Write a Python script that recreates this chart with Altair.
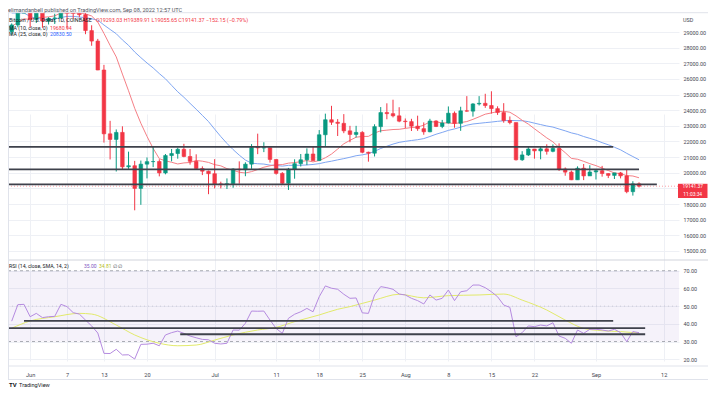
import altair as alt
import numpy as np
import pandas as pd

# ------------------------------------------------------------------ data
start_date = "2022-05-29"
end_date = "2022-09-08"
origin_date = "2022-06-01"

opens = [29020, 29450, 31720,
         31790, 29800, 30450, 29700, 29860, 29900, 31370, 31125, 30200, 30110,
         29090, 28420, 26570, 22490, 22130, 22580, 20380, 20450, 19000, 20550,
         20710, 20720, 19990, 21100, 21230, 21500, 21040, 20730, 20270, 20100,
         19940, 19290, 19240, 19300, 20230, 20190, 20550, 21620, 21590, 21600,
         20850, 19960, 19330, 20230, 20580, 20830, 21200, 20780, 22430, 23390,
         23230, 23160, 22680, 22450, 22580, 21310, 21250, 22950, 23850, 23780,
         23640,
         23300, 23270, 22980, 22820, 22620, 23310, 22960, 23180, 23810, 23160,
         23960, 23940, 24400, 24440, 24300, 24100, 23850, 23340, 23210, 20830,
         21140, 21520, 21400, 21530, 21370, 21560, 20240, 20040, 19550, 20290,
         19800,
         20050, 20130, 19950, 19830, 19990, 19800, 18790, 19293]
highs = [29550, 32220, 32400,
         31980, 30660, 30690, 29950, 30170, 31760, 31560, 31330, 30650, 30330,
         29430, 28560, 26900, 23320, 22770, 22970, 21350, 20760, 20780, 20980,
         21700, 20860, 21200, 21520, 21600, 21850, 21520, 21180, 20410, 20140,
         20870, 19430, 19640, 20290, 20730, 20670, 21830, 22500, 21950, 21600,
         20860, 20040, 20310, 20860, 21200, 21560, 21690, 22730, 23780, 24280,
         23430, 23750, 23000, 23000, 22660, 21350, 23100, 24200, 24440, 24670,
         24190,
         23470, 23450, 23650, 23220, 23450, 23360, 23380, 24240, 23920, 24220,
         24900, 24450, 24900, 25050, 25210, 24250, 24450, 23600, 23210, 21380,
         21700, 21520, 21670, 21820, 21810, 21880, 20340, 20140, 20410, 20560,
         20480,
         20200, 20440, 19970, 20000, 20050, 20180, 19460, 19390]
lows = [28820, 29300, 31220,
        29300, 29580, 29270, 29480, 29510, 29880, 29220, 29840, 29950, 28860,
        28120, 26560, 21930, 20850, 20080, 20230, 20250, 17600, 17950, 19640,
        20360, 19770, 19900, 20730, 20900, 20990, 20520, 20200, 19850, 18630,
        19000, 19000, 18960, 19040, 19300, 19780, 20250, 21190, 21320, 20650,
        19880, 19240, 18900, 19620, 20400, 20490, 20770, 20760, 21650, 23060,
        22350, 22530, 21950, 22260, 21250, 20710, 21040, 22580, 23420, 23540,
        23230,
        22850, 22670, 22680, 22430, 22590, 22920, 22850, 23150, 22880, 22680,
        23900, 23590, 24300, 24150, 23780, 23700, 23200, 23100, 20780, 20760,
        21070, 20900, 20860, 21160, 21310, 20120, 19810, 19530, 19550, 19530,
        19800,
        19570, 19750, 19660, 19600, 19640, 18690, 18540, 19056]
closes = [29450, 31720, 31790,
          29800, 30450, 29700, 29860, 29900, 31370, 31125, 30200, 30110, 29090,
          28420, 26570, 22490, 22130, 22580, 20380, 20450, 19000, 20550, 20710,
          20720, 19990, 21100, 21230, 21500, 21040, 20730, 20270, 20100, 19940,
          19290, 19240, 19300, 20230, 20190, 20550, 21620, 21590, 21600, 20850,
          19960, 19330, 20230, 20580, 20830, 21200, 20780, 22430, 23390, 23230,
          23160, 22680, 22450, 22580, 21310, 21250, 22950, 23850, 23780, 23640,
          23300,
          23270, 22980, 22820, 22620, 23310, 22960, 23180, 23810, 23160, 23960,
          23940, 24400, 24440, 24300, 24100, 23850, 23340, 23210, 20830, 21140,
          21520, 21400, 21530, 21370, 21560, 20240, 20040, 19550, 20290, 19800,
          20050,
          20130, 19950, 19830, 19990, 19800, 18790, 19290, 19141.37]
ma10 = [29357, 29610, 29846,
        29798, 29933, 29938, 29969, 30032, 30306, 30517, 30592, 30431, 30161,
        30023, 29635, 28914, 28141, 27409, 26310, 25242, 24122, 23166, 22328,
        21558, 20900, 20761, 20671, 20563, 20629, 20657, 20784, 20739, 20662,
        20519, 20444, 20264, 20164, 20033, 19984, 20073, 20205, 20355, 20446,
        20513, 20522, 20615, 20650, 20714, 20779, 20695, 20779, 20958, 21196,
        21516, 21851, 22073, 22273, 22321, 22326, 22543, 22685, 22724, 22765,
        22779,
        22838, 22891, 22915, 23046, 23252, 23253, 23186, 23189, 23141, 23207,
        23274, 23416, 23578, 23746, 23825, 23914, 23930, 23870, 23637, 23355,
        23113, 22813, 22522, 22229, 21975, 21614, 21284, 20918, 20864, 20730,
        20583,
        20456, 20298, 20144, 19987, 19943, 19818, 19792, 19681]
ma25 = [30587, 30394, 30225,
        29998, 29854, 29839, 29793, 29831, 29925, 29998, 30003, 29955, 29925,
        29844, 29759, 29447, 29164, 28890, 28494, 28148, 27722, 27362, 27020,
        26703, 26342, 26008, 25589, 25177, 24827, 24438, 24061, 23670, 23272,
        22789, 22313, 21877, 21482, 21126, 20811, 20613, 20577, 20556, 20487,
        20470, 20425, 20474, 20476, 20480, 20500, 20531, 20584, 20671, 20740,
        20825, 20903, 20990, 21089, 21144, 21222, 21371, 21553, 21695, 21833,
        21943,
        22009, 22064, 22113, 22184, 22318, 22463, 22581, 22710, 22804, 22914,
        23040, 23119, 23161, 23204, 23242, 23288, 23324, 23349, 23330, 23326,
        23268, 23170, 23080, 22990, 22920, 22799, 22681, 22550, 22457, 22317,
        22200,
        22078, 21924, 21791, 21632, 21466, 21242, 21036, 20831]
rsi = [41.5, 50.8, 51.0,
       44.0, 45.9, 43.5, 44.0, 44.2, 51.0, 49.7, 46.3, 45.5, 42.1,
       38.8, 34.8, 23.3, 23.2, 25.6, 22.4, 22.5, 20.1, 28.4, 28.5,
       29.0, 27.6, 33.7, 35.0, 35.9, 34.6, 33.1, 32.1, 31.2, 31.0,
       29.0, 28.6, 29.0, 36.5, 36.4, 40.3, 47.2, 47.1, 47.2, 42.1,
       37.4, 34.6, 43.1, 45.4, 46.8, 48.7, 46.8, 55.3, 61.4, 60.1,
       59.5, 56.7, 54.4, 54.6, 46.2, 45.9, 56.3, 61.0, 60.4, 59.5,
       56.8,
       56.3, 54.4, 53.1, 51.2, 56.3, 53.4, 54.4, 59.1, 53.1, 58.1,
       58.7, 61.9, 61.9, 60.4, 58.1, 55.3, 50.6, 49.3, 32.7, 35.0,
       38.8, 38.4, 39.3, 38.8, 40.6, 33.1, 31.8, 29.0, 36.5, 34.6,
       36.9,
       36.9, 36.5, 35.9, 36.9, 35.0, 29.9, 35.6, 35.0]

rsi_sma_dates = ["2022-05-29", "2022-06-01", "2022-06-05", "2022-06-09", "2022-06-11",
                 "2022-06-15", "2022-06-18", "2022-06-22", "2022-06-25", "2022-06-28",
                 "2022-07-01", "2022-07-04", "2022-07-08", "2022-07-11", "2022-07-14",
                 "2022-07-18", "2022-07-21", "2022-07-23", "2022-07-27", "2022-07-31",
                 "2022-08-04", "2022-08-08", "2022-08-13", "2022-08-17", "2022-08-20",
                 "2022-08-24", "2022-08-27", "2022-08-30", "2022-09-02", "2022-09-05",
                 "2022-09-08"]
rsi_sma = [37.5, 41.6, 44.0, 45.9, 45.5, 39.3, 33.7, 29.0, 27.6, 28.0,
           30.8, 33.7, 36.5, 38.0, 41.2, 45.0, 48.2, 49.7, 53.4, 56.7,
           54.7, 55.9, 56.3, 56.8, 53.4, 47.8, 42.1, 37.4, 36.1, 35.6, 34.8]

# drawn horizontal levels (price pane): price, start day, end day (days from Jun 1)
support_levels = [21650, 20220, 19260]
support_start = [-10.0, -10.0, -10.0]
support_end = [94.8, 99.0, 101.9]
# drawn horizontal levels (RSI pane)
rsi_levels = [41.7, 37.6, 34.1]
rsi_level_start = [-1.0, -10.0, 24.4]
rsi_level_end = [94.8, 100.0, 100.0]

last_price = [19141.37]
last_price_text = ["19141.37", "11:03:34"]

price_ticks = [15000, 16000, 17000, 18000, 19000, 20000, 21000, 22000,
               23000, 24000, 25000, 26000, 27000, 28000, 29000]
hidden_price_tick = 19000  # covered by the last-price tag in the reference
rsi_ticks = [20, 30, 40, 50, 60, 70]
rsi_band = [30, 70]
x_tick_dates = ["2022-06-01", "2022-06-07", "2022-06-13", "2022-06-20", "2022-07-01",
                "2022-07-11", "2022-07-18", "2022-07-25", "2022-08-01", "2022-08-08",
                "2022-08-15", "2022-08-22", "2022-09-01", "2022-09-12"]
x_tick_labels = ["Jun", "7", "13", "20", "Jul", "11", "18", "25", "Aug", "8",
                 "15", "22", "Sep", "12"]

header_text = "elimandanbell published on TradingView.com, Sep 08, 2022 12:57 UTC"
title_text = "Bitcoin / U.S. Dollar, 1D, COINBASE"
ohlc_text = "O19293.03  H19389.91  L19055.65  C19141.37  \u2212152.15 (\u22120.79%)"
ma10_label, ma10_value = "MA (10, close, 0)", "19680.94"
ma25_label, ma25_value = "MA (25, close, 0)", "20830.50"
rsi_label, rsi_value, rsi_sma_value, rsi_tail = "RSI (14, close, SMA, 14, 2)", "35.00", "34.81", "\u2205 \u2205"
currency_text = "USD"
logo_text = "TradingView"

# ------------------------------------------------------------------ styles
FONT = "Roboto"
GREEN = "#089981"
RED = "#f23645"
MA10_C = "#f57f86"
MA25_C = "#7fa6f2"
RSI_C = "#b58be0"
SMA_C = "#e2ea6b"
LEVEL_C = "#3e414b"
GRID_C = "#eef0f5"
FRAME_C = "#e0e3eb"
TEXT_C = "#434651"

W, H = 671, 358

origin = pd.Timestamp(origin_date)
dates = pd.date_range(start_date, end_date, freq="D")
df = pd.DataFrame({
    "date": dates.strftime("%Y-%m-%d"),
    "open": opens, "high": highs, "low": lows, "close": closes,
    "ma10": ma10, "ma25": ma25, "rsi": rsi,
})
df["d"] = np.asarray((dates - origin).days, dtype=float)
df["col"] = np.where(df["close"] >= df["open"], GREEN, RED)

sma_df = pd.DataFrame({"v": rsi_sma})
sma_df["d"] = np.asarray((pd.to_datetime(rsi_sma_dates) - origin).days, dtype=float)

sup_df = pd.DataFrame({"p": support_levels, "d0": support_start, "d1": support_end})
rlev_df = pd.DataFrame({"r": rsi_levels, "d0": rsi_level_start, "d1": rsi_level_end})
last_df = pd.DataFrame({"p": last_price, "t1": [last_price_text[0]], "t2": [last_price_text[1]]})
band_df = pd.DataFrame({"lo": [rsi_band[0]], "hi": [rsi_band[1]]})
guide_df = pd.DataFrame({"v": rsi_band})
mid_df = pd.DataFrame({"v": [50]})
one = pd.DataFrame({"a": [0]})

tick_days = [int((pd.Timestamp(t) - origin).days) for t in x_tick_dates]
label_expr = "".join(f"datum.value == {d} ? '{l}' : " for d, l in zip(tick_days, x_tick_labels)) + "''"
price_label_expr = f"datum.value == {hidden_price_tick} ? '' : format(datum.value, '.2f')"

XS = alt.Scale(domain=[-3.6, 105.5], nice=False, zero=False)
PS = alt.Scale(domain=[14422, 30215], range=[252, 5], clamp=True, nice=False, zero=False)
RS = alt.Scale(domain=[16.16, 76.05], range=[358, 252], clamp=True, nice=False, zero=False)

XAXIS = alt.Axis(values=tick_days, labelExpr=label_expr, grid=True, gridColor=GRID_C,
                 ticks=False, tickSize=0, domain=False, labelFontSize=5.6, labelFont=FONT,
                 labelColor=TEXT_C, labelPadding=8, labelBaseline="middle",
                 labelFlush=False, labelOverlap=False, title=None)
PAXIS = alt.Axis(orient="right", values=price_ticks, labelExpr=price_label_expr,
                 grid=True, gridColor=GRID_C, ticks=False, tickSize=0, domain=False,
                 labelFontSize=5.4, labelFont=FONT, labelColor=TEXT_C, labelPadding=4,
                 labelFlush=False, labelOverlap=False, title=None)
RAXIS = alt.Axis(orient="right", values=rsi_ticks, labelExpr="format(datum.value, '.2f')",
                 grid=True, gridColor=GRID_C, ticks=False, tickSize=0, domain=False,
                 labelFontSize=5.4, labelFont=FONT, labelColor=TEXT_C, labelPadding=4,
                 labelFlush=False, labelOverlap=False, title=None)


def X(field="d"):
    return alt.X(f"{field}:Q", scale=XS, axis=XAXIS, title=None)


def txt(s, x, y, color=TEXT_C, size=5.4, align="left", weight="normal"):
    return alt.Chart(one).mark_text(text=s, align=align, baseline="middle", fontSize=size,
                                    font=FONT, color=color, fontWeight=weight).encode(
        x=alt.value(x), y=alt.value(y))


def hline(y, x0, x1, color=FRAME_C, width=1):
    return alt.Chart(one).mark_rule(color=color, strokeWidth=width).encode(
        x=alt.value(x0), x2=alt.value(x1), y=alt.value(y))


def vline(x, y0, y1, color=FRAME_C, width=1):
    return alt.Chart(one).mark_rule(color=color, strokeWidth=width).encode(
        x=alt.value(x), y=alt.value(y0), y2=alt.value(y1))


band = alt.Chart(band_df).mark_rect(color="#7e57c2", opacity=0.08).encode(
    x=alt.value(0), x2=alt.value(W),
    y=alt.Y("lo:Q", scale=RS, axis=None), y2="hi:Q")
guides = alt.Chart(guide_df).mark_rule(color="#9598a1", strokeWidth=0.8, strokeDash=[3, 3]).encode(
    x=alt.value(0), x2=alt.value(W), y=alt.Y("v:Q", scale=RS, axis=None))
mid = alt.Chart(mid_df).mark_rule(color="#9598a1", strokeWidth=0.6, strokeDash=[1, 3], opacity=0.6).encode(
    x=alt.value(0), x2=alt.value(W), y=alt.Y("v:Q", scale=RS, axis=RAXIS))

price_line = alt.Chart(last_df).mark_rule(color=RED, strokeWidth=0.8, strokeDash=[1, 2], opacity=0.6).encode(
    x=alt.value(0), x2=alt.value(W), y=alt.Y("p:Q", scale=PS, axis=None))

ma25_line = alt.Chart(df).mark_line(color=MA25_C, strokeWidth=1).encode(
    x=X(), y=alt.Y("ma25:Q", scale=PS, axis=None))
ma10_line = alt.Chart(df).mark_line(color=MA10_C, strokeWidth=1).encode(
    x=X(), y=alt.Y("ma10:Q", scale=PS, axis=None))

wicks = alt.Chart(df).mark_rule(strokeWidth=1).encode(
    x=X(), y=alt.Y("low:Q", scale=PS, axis=PAXIS), y2="high:Q",
    color=alt.Color("col:N", scale=None))
bodies = alt.Chart(df).mark_rect(xOffset=-1.8, x2Offset=1.8, strokeWidth=0.6).encode(
    x=X(), x2="d:Q", y=alt.Y("open:Q", scale=PS, axis=None), y2="close:Q",
    color=alt.Color("col:N", scale=None), stroke=alt.Stroke("col:N", scale=None))

sup_lines = alt.Chart(sup_df).mark_rule(color=LEVEL_C, strokeWidth=1.8, clip=True).encode(
    x=X("d0"), x2="d1:Q", y=alt.Y("p:Q", scale=PS, axis=None))

sma_line = alt.Chart(sma_df).mark_line(color=SMA_C, strokeWidth=1, interpolate="monotone").encode(
    x=X(), y=alt.Y("v:Q", scale=RS, axis=None))
rsi_line = alt.Chart(df).mark_line(color=RSI_C, strokeWidth=1).encode(
    x=X(), y=alt.Y("rsi:Q", scale=RS, axis=None))
rlev_lines = alt.Chart(rlev_df).mark_rule(color=LEVEL_C, strokeWidth=1.8, clip=True).encode(
    x=X("d0"), x2="d1:Q", y=alt.Y("r:Q", scale=RS, axis=None))

header_strip = alt.Chart(one).mark_rect(color="white").encode(
    x=alt.value(-8), x2=alt.value(700), y=alt.value(-8), y2=alt.value(4.6))

tag = alt.Chart(last_df).mark_rect(color=RED, yOffset=-2.4, y2Offset=11.8).encode(
    x=alt.value(670), x2=alt.value(699.5), y=alt.Y("p:Q", scale=PS, axis=None), y2="p:Q")
tag_t1 = alt.Chart(last_df).mark_text(color="white", fontSize=4.9, font=FONT, align="center",
                                      baseline="middle", yOffset=1.0).encode(
    x=alt.value(684.7), y=alt.Y("p:Q", scale=PS, axis=None), text="t1:N")
tag_t2 = alt.Chart(last_df).mark_text(color="white", fontSize=4.9, font=FONT, align="center",
                                      baseline="middle", yOffset=8.4).encode(
    x=alt.value(684.7), y=alt.Y("p:Q", scale=PS, axis=None), text="t2:N")

frames = [
    hline(4.7, 0, 701), hline(252, 0, 701, color="#d1d4dc"), hline(358, 0, 701),
    hline(371.5, 0, 701), vline(701, 4.7, 371.5), vline(0.5, 4.7, 371.5),
]

texts = [
    txt(header_text, 0, 1.8, color="#50535e", size=5.6),
    txt(title_text, 1, 12, color="#131722", size=5.4),
    txt(ohlc_text, 88, 12, color=RED, size=5.4),
    txt(ma10_label, 1, 19.6, color="#131722", size=5.2),
    txt(ma10_value, 42, 19.6, color=RED, size=5.2),
    txt(ma25_label, 1, 26.3, color="#131722", size=5.2),
    txt(ma25_value, 42, 26.3, color="#2962ff", size=5.2),
    txt(rsi_label, 1, 258, color="#131722", size=5.2),
    txt(rsi_value, 76, 258, color="#7e57c2", size=5.0),
    txt(rsi_sma_value, 91, 258, color="#b7bf1f", size=5.0),
    txt(rsi_tail, 105, 258, color=TEXT_C, size=5.0),
    txt(currency_text, 675, 12, color=TEXT_C, size=5.4),
    txt("TV", 1, 377, color="#131722", size=6, weight="bold"),
    txt(logo_text, 11, 377, color="#131722", size=5.6),
]

chart = alt.layer(
    band, guides, mid, price_line, ma25_line, ma10_line, wicks, bodies, sup_lines,
    sma_line, rsi_line, rlev_lines, header_strip, *frames, tag, tag_t1, tag_t2, *texts,
).resolve_scale(y="independent").properties(
    width=W, height=H,
    autosize=alt.AutoSizeParams(type="none"),
    padding={"left": 0, "top": 0, "right": 29, "bottom": 22},
    background="white",
).configure_view(stroke=None)

chart.save("out.html", embed_options={"renderer": "svg", "actions": False})
